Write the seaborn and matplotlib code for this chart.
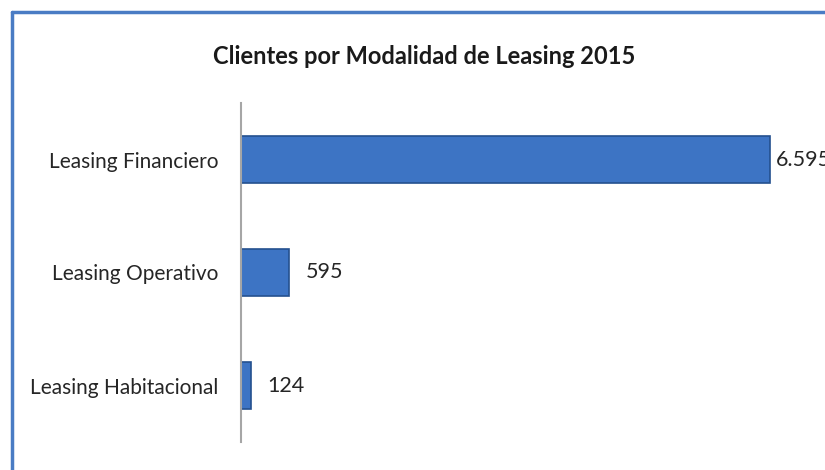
import matplotlib
matplotlib.use("Agg")
import matplotlib.pyplot as plt
import seaborn as sns
import pandas as pd
from matplotlib.lines import Line2D

# data
categorias = ["Leasing Financiero", "Leasing Operativo", "Leasing Habitacional"]
clientes = [6595, 595, 124]
titulo = "Clientes por Modalidad de Leasing 2015"

sns.set_style("white")
plt.rcParams["font.family"] = ["Lato", "DejaVu Sans"]

df = pd.DataFrame({"Modalidad": categorias, "Clientes": clientes})

fig = plt.figure(figsize=(8.25, 4.7), dpi=100)
ax = fig.add_axes([241 / 825, 28 / 470, 561 / 825, 339 / 470])

sns.barplot(data=df, x="Clientes", y="Modalidad", orient="h", ax=ax,
            color="#3d74c4", edgecolor="#24508f", linewidth=1.2,
            width=0.42, saturation=1)

ax.set_xlim(0, 7000)
ax.set_ylim(2.5, -0.5)
ax.set_xlabel("")
ax.set_ylabel("")
ax.set_xticks([])
ax.tick_params(axis="y", length=0, pad=16, labelsize=15, labelcolor="#262626")
for s in ["top", "right", "bottom"]:
    ax.spines[s].set_visible(False)
ax.spines["left"].set_color("#a6a6a6")
ax.spines["left"].set_linewidth(1.5)

# value labels, Spanish thousands separator
pads = [6, 17, 16]
for i, (v, p) in enumerate(zip(clientes, pads)):
    ax.annotate(f"{v:,}".replace(",", "."), xy=(v, i), xytext=(p, 0),
                textcoords="offset pixels", va="center", ha="left",
                fontsize=15.5, color="#262626", annotation_clip=False)

fig.text(424 / 825, 1 - 57 / 470, titulo, ha="center", va="center",
         fontsize=17, fontweight="bold", color="#1a1a1a")

# chart frame (only the left and top edges are visible in the picture)
x0, y0 = 11.5 / 825, 1 - 12 / 470
fig.add_artist(Line2D([x0, x0], [0, y0], color="#4a7cc4", linewidth=2.5,
                      transform=fig.transFigure))
fig.add_artist(Line2D([x0, 1], [y0, y0], color="#4a7cc4", linewidth=2.5,
                      transform=fig.transFigure))

fig.savefig("out.png", dpi=100)
